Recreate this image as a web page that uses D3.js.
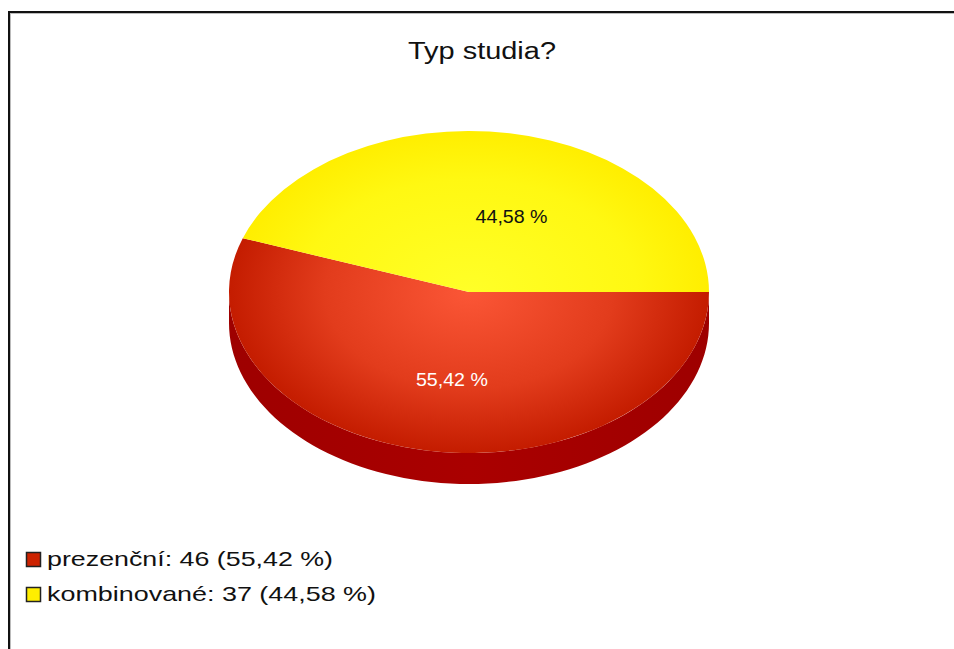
<!DOCTYPE html>
<html>
<head>
<meta charset="utf-8">
<script src="https://cdn.jsdelivr.net/npm/d3@7"></script>
<style>
  html, body { margin: 0; padding: 0; background: #fff; }
  svg { display: block; }
</style>
</head>
<body>
<svg id="chart" width="954" height="649"></svg>
<script>
// Survey answers: type of study
const title = "Typ studia?";
const categories = ["prezenční", "kombinované"];
const counts = [46, 37];

const W = 954, H = 649;
const svg = d3.select("#chart");

// pie geometry (elliptic, tilted)
const cx = 469, cy = 292, rx = 240, ry = 161, depth = 31;
const sy = ry / rx;

const total = d3.sum(counts);
const fmtPct = v => (v * 100).toFixed(2).replace(".", ",") + " %";

const defs = svg.append("defs");

// radial shading of the top faces
const gRed = defs.append("radialGradient").attr("id", "gRed")
  .attr("gradientUnits", "userSpaceOnUse")
  .attr("cx", 0).attr("cy", 0).attr("r", rx).attr("fx", 0).attr("fy", 0);
gRed.append("stop").attr("offset", "0%").attr("stop-color", "#fb5636");
gRed.append("stop").attr("offset", "60%").attr("stop-color", "#e23c1c");
gRed.append("stop").attr("offset", "100%").attr("stop-color", "#c41c00");

const gYel = defs.append("radialGradient").attr("id", "gYel")
  .attr("gradientUnits", "userSpaceOnUse")
  .attr("cx", 0).attr("cy", 0).attr("r", rx).attr("fx", 0).attr("fy", 0);
gYel.append("stop").attr("offset", "0%").attr("stop-color", "#ffff28");
gYel.append("stop").attr("offset", "70%").attr("stop-color", "#fff812");
gYel.append("stop").attr("offset", "100%").attr("stop-color", "#ffee00");

const gSide = defs.append("linearGradient").attr("id", "gSide")
  .attr("gradientUnits", "userSpaceOnUse")
  .attr("x1", cx - rx).attr("x2", cx + rx).attr("y1", 0).attr("y2", 0);
gSide.append("stop").attr("offset", "0%").attr("stop-color", "#9e0000");
gSide.append("stop").attr("offset", "50%").attr("stop-color", "#aa0000");
gSide.append("stop").attr("offset", "100%").attr("stop-color", "#9e0000");

const faceFill = ["url(#gRed)", "url(#gYel)"];
const sideFill = ["url(#gSide)", "#d8c800"];

// frame (left and top edges)
svg.append("line").attr("x1", 9).attr("x2", W).attr("y1", 12).attr("y2", 12)
  .attr("stroke", "#111").attr("stroke-width", 2);
svg.append("line").attr("x1", 9).attr("x2", 9).attr("y1", 11).attr("y2", H)
  .attr("stroke", "#111").attr("stroke-width", 2);
svg.append("line").attr("x1", 10).attr("x2", W).attr("y1", 13.5).attr("y2", 13.5)
  .attr("stroke", "#bbb").attr("stroke-width", 1);
svg.append("line").attr("x1", 10.5).attr("x2", 10.5).attr("y1", 13).attr("y2", H)
  .attr("stroke", "#bbb").attr("stroke-width", 1);

// wide-set text helper
function wideText(sel, x, y, size, len, anchor) {
  return sel.append("text").attr("x", x).attr("y", y)
    .attr("text-anchor", anchor || "start")
    .attr("font-family", "Liberation Sans, Arial, sans-serif")
    .attr("font-size", size)
    .attr("textLength", len).attr("lengthAdjust", "spacingAndGlyphs");
}

// title
wideText(svg, 482, 59, 23, 148, "middle").attr("fill", "#111").text(title);

// slices start at 3 o'clock and run clockwise
const pie = d3.pie().sort(null).value(d => d)
  .startAngle(Math.PI / 2).endAngle(Math.PI / 2 + 2 * Math.PI);
const arcs = pie(counts);

// point on the ellipse for a d3 angle (0 = 12 o'clock, clockwise)
const pt = (a, dy = 0) => [cx + rx * Math.sin(a), cy - ry * Math.cos(a) + dy];

// side walls: only the front half (angles between PI/2 and 3PI/2) shows
const sideG = svg.append("g");
arcs.forEach((a, i) => {
  const lo = Math.max(a.startAngle, Math.PI / 2);
  const hi = Math.min(a.endAngle, 3 * Math.PI / 2);
  if (hi <= lo) return;
  const n = 80;
  const top = d3.range(n + 1).map(k => pt(lo + (hi - lo) * k / n));
  const bot = top.map(p => [p[0], p[1] + depth]).reverse();
  sideG.append("path")
    .attr("d", d3.line()(top.concat(bot)) + "Z")
    .attr("fill", sideFill[i]);
});

// top faces
const arc = d3.arc().innerRadius(0).outerRadius(rx);
const faces = svg.append("g")
  .attr("transform", `translate(${cx},${cy}) scale(1,${sy})`);
faces.selectAll("path").data(arcs).join("path")
  .attr("d", arc)
  .attr("fill", (d, i) => faceFill[i]);

// percentage labels inside slices
const labelColors = ["#ffffff", "#111111"];
const lblG = svg.append("g");
arcs.forEach((d, i) => {
  const mid = (d.startAngle + d.endAngle) / 2;
  const lx = cx + 12.75 + 0.733 * rx * Math.sin(mid);
  const ly = cy + 12.5 - 0.5135 * ry * Math.cos(mid);
  wideText(lblG, lx, ly, 18, 72, "middle")
    .attr("fill", labelColors[i])
    .text(fmtPct(d.value / total));
});

// legend
const legendY = [559, 594];
const legendLen = [286, 329];
const legendFill = ["#cc2200", "#ffee00"];
const lg = svg.append("g");
categories.forEach((c, i) => {
  lg.append("rect").attr("x", 26.5).attr("y", legendY[i] - 6.5)
    .attr("width", 14).attr("height", 14)
    .attr("fill", legendFill[i]).attr("stroke", "#222").attr("stroke-width", 1.5);
  wideText(lg, 47, legendY[i] + 6.5, 21, legendLen[i]).attr("fill", "#111")
    .text(`${c}: ${counts[i]} (${fmtPct(counts[i] / total)})`);
});
</script>
</body>
</html>
